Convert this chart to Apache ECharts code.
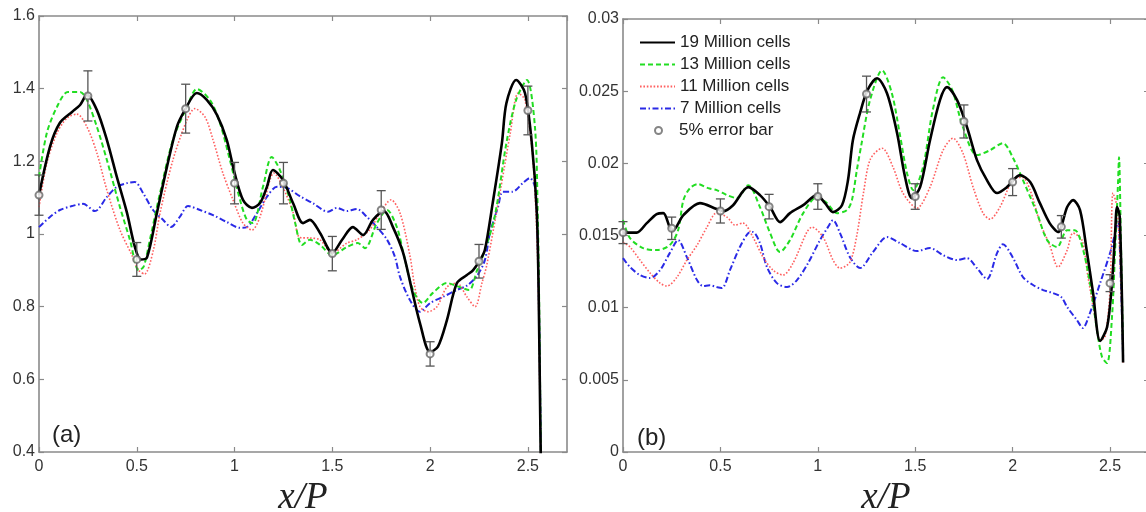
<!DOCTYPE html>
<html>
<head>
<meta charset="utf-8">
<title>Grid convergence</title>
<script src="https://cdn.jsdelivr.net/npm/echarts@6/dist/echarts.min.js"></script>
<style>
  html, body { margin: 0; padding: 0; background: #fff; }
  #chart { width: 1146px; height: 512px; }
</style>
</head>
<body>
<div id="chart"></div>
<script>
// Panel (a): profiles along x/P for each mesh size
const cells19A = [[0,1.107],[0.056,1.24],[0.107,1.306],[0.169,1.336],[0.21,1.355],[0.245,1.383],[0.296,1.341],[0.347,1.259],[0.398,1.157],[0.45,1.058],[0.49,0.965],[0.52,0.93],[0.552,0.935],[0.603,1.058],[0.654,1.184],[0.705,1.295],[0.746,1.341],[0.807,1.388],[0.858,1.369],[0.91,1.328],[0.96,1.259],[1.0,1.168],[1.043,1.094],[1.089,1.072],[1.13,1.085],[1.165,1.129],[1.196,1.176],[1.247,1.149],[1.3,1.084],[1.35,1.03],[1.385,1.039],[1.437,1.003],[1.5,0.948],[1.55,0.984],[1.605,1.019],[1.657,0.997],[1.708,1.039],[1.764,1.063],[1.81,1.019],[1.861,0.95],[1.907,0.846],[1.948,0.755],[2.0,0.675],[2.04,0.69],[2.086,0.763],[2.137,0.865],[2.188,0.887],[2.219,0.9],[2.255,0.928],[2.28,0.956],[2.32,1.085],[2.367,1.25],[2.39,1.36],[2.44,1.424],[2.485,1.388],[2.52,1.25],[2.545,1.066],[2.555,0.84],[2.563,0.5],[2.566,0.38]];
const cells13A = [[0,1.157],[0.04,1.278],[0.092,1.35],[0.148,1.391],[0.21,1.391],[0.245,1.369],[0.296,1.295],[0.347,1.204],[0.414,1.074],[0.465,0.984],[0.51,0.9],[0.535,0.91],[0.567,0.984],[0.619,1.113],[0.685,1.259],[0.757,1.35],[0.807,1.399],[0.874,1.369],[0.925,1.306],[0.976,1.204],[1.028,1.094],[1.063,1.039],[1.094,1.03],[1.145,1.129],[1.19,1.212],[1.232,1.176],[1.283,1.094],[1.31,1.03],[1.345,0.97],[1.385,0.984],[1.437,0.97],[1.5,0.942],[1.574,0.964],[1.63,0.975],[1.667,0.961],[1.728,1.03],[1.78,1.066],[1.83,1.019],[1.86,0.956],[1.912,0.846],[1.963,0.81],[2.014,0.838],[2.086,0.865],[2.15,0.854],[2.2,0.846],[2.24,0.9],[2.27,0.94],[2.33,1.047],[2.39,1.25],[2.44,1.369],[2.495,1.424],[2.536,1.295],[2.55,1.066],[2.558,0.8],[2.564,0.5],[2.567,0.38]];
const cells11A = [[0,1.074],[0.04,1.195],[0.092,1.278],[0.143,1.319],[0.194,1.33],[0.245,1.295],[0.296,1.223],[0.347,1.121],[0.414,1.011],[0.475,0.942],[0.51,0.9],[0.54,0.89],[0.585,0.956],[0.619,1.058],[0.685,1.204],[0.757,1.314],[0.797,1.345],[0.849,1.322],[0.89,1.259],[0.94,1.168],[0.992,1.094],[1.043,1.03],[1.089,1.011],[1.13,1.047],[1.181,1.149],[1.2,1.168],[1.247,1.129],[1.3,1.058],[1.334,0.99],[1.385,0.989],[1.437,0.984],[1.5,0.948],[1.574,0.975],[1.625,0.984],[1.69,1.011],[1.744,1.058],[1.8,1.094],[1.846,1.058],[1.897,0.94],[1.92,0.86],[1.948,0.8],[1.99,0.786],[2.035,0.8],[2.086,0.854],[2.137,0.865],[2.188,0.827],[2.23,0.8],[2.265,0.865],[2.29,0.915],[2.357,1.113],[2.41,1.278],[2.45,1.388],[2.485,1.369],[2.526,1.204],[2.55,0.928],[2.56,0.6],[2.566,0.38]];
const cells7A = [[0,1.019],[0.056,1.047],[0.107,1.066],[0.169,1.077],[0.225,1.083],[0.286,1.063],[0.347,1.102],[0.398,1.13],[0.45,1.14],[0.49,1.143],[0.532,1.113],[0.583,1.066],[0.634,1.039],[0.675,1.019],[0.72,1.047],[0.762,1.077],[0.823,1.066],[0.89,1.052],[0.96,1.033],[1.028,1.017],[1.063,1.019],[1.115,1.058],[1.165,1.102],[1.217,1.13],[1.268,1.127],[1.334,1.104],[1.4,1.085],[1.478,1.061],[1.523,1.072],[1.574,1.063],[1.625,1.069],[1.677,1.047],[1.728,1.019],[1.78,0.984],[1.82,0.937],[1.846,0.882],[1.897,0.818],[1.948,0.786],[2.0,0.81],[2.066,0.827],[2.137,0.846],[2.188,0.858],[2.24,0.885],[2.28,0.928],[2.306,1.003],[2.347,1.074],[2.372,1.116],[2.42,1.116],[2.474,1.14],[2.51,1.154],[2.536,1.129],[2.55,0.975],[2.558,0.744],[2.564,0.5],[2.567,0.38]];

// Panel (b): profiles along x/P for each mesh size
const cells19B = [[0,0.0152],[0.07,0.0152],[0.122,0.01586],[0.173,0.01648],[0.207,0.01655],[0.24,0.01558],[0.257,0.01537],[0.31,0.01641],[0.395,0.01724],[0.481,0.01683],[0.514,0.01669],[0.565,0.0171],[0.643,0.01835],[0.703,0.0178],[0.755,0.01697],[0.806,0.01593],[0.857,0.01655],[0.925,0.0171],[0.995,0.0178],[1.037,0.01724],[1.078,0.01662],[1.124,0.0171],[1.155,0.01884],[1.18,0.0216],[1.217,0.0235],[1.255,0.02507],[1.304,0.0259],[1.355,0.02486],[1.407,0.02209],[1.448,0.01904],[1.483,0.01759],[1.525,0.01835],[1.576,0.0216],[1.627,0.02438],[1.663,0.02528],[1.715,0.02438],[1.766,0.0225],[1.817,0.02022],[1.868,0.01884],[1.92,0.01794],[1.971,0.01835],[2.038,0.01918],[2.09,0.0187],[2.14,0.01724],[2.19,0.01586],[2.233,0.01524],[2.28,0.01697],[2.31,0.01745],[2.346,0.01676],[2.38,0.01399],[2.413,0.01101],[2.449,0.0077],[2.485,0.00866],[2.51,0.0117],[2.526,0.01517],[2.536,0.01697],[2.55,0.01627],[2.567,0.0062]];
const cells13B = [[0,0.01607],[0.036,0.01482],[0.103,0.01413],[0.175,0.01399],[0.24,0.01433],[0.283,0.01537],[0.31,0.01745],[0.344,0.01828],[0.385,0.01856],[0.437,0.01828],[0.481,0.01814],[0.534,0.0178],[0.585,0.01759],[0.643,0.01849],[0.703,0.01697],[0.755,0.01517],[0.806,0.01385],[0.857,0.01468],[0.925,0.01655],[0.995,0.01766],[1.047,0.01724],[1.098,0.01655],[1.15,0.01676],[1.175,0.01745],[1.2,0.0195],[1.225,0.0214],[1.268,0.02438],[1.33,0.02645],[1.38,0.02486],[1.42,0.02209],[1.458,0.01932],[1.49,0.01814],[1.54,0.01974],[1.59,0.02368],[1.643,0.02597],[1.69,0.02507],[1.745,0.0225],[1.817,0.02057],[1.884,0.02091],[1.95,0.0214],[2.0,0.02043],[2.053,0.01884],[2.125,0.01655],[2.177,0.01468],[2.228,0.0142],[2.28,0.01537],[2.32,0.01537],[2.36,0.0141],[2.397,0.0117],[2.433,0.00845],[2.459,0.00658],[2.485,0.00616],[2.51,0.00935],[2.526,0.01399],[2.541,0.01863],[2.546,0.02043],[2.556,0.0145],[2.567,0.007]];
const cells11B = [[0,0.01454],[0.036,0.0142],[0.087,0.0133],[0.139,0.0124],[0.19,0.0117],[0.226,0.0115],[0.277,0.01212],[0.328,0.0133],[0.38,0.01433],[0.431,0.01558],[0.48,0.01655],[0.534,0.01627],[0.575,0.01572],[0.616,0.01586],[0.667,0.01489],[0.719,0.0135],[0.77,0.0126],[0.821,0.01226],[0.873,0.01309],[0.944,0.01524],[0.97,0.01558],[1.027,0.01489],[1.078,0.0133],[1.114,0.01274],[1.165,0.01316],[1.2,0.015],[1.235,0.018],[1.27,0.0203],[1.33,0.02105],[1.386,0.01974],[1.437,0.01794],[1.509,0.0169],[1.576,0.01835],[1.643,0.02091],[1.694,0.02174],[1.745,0.0207],[1.797,0.01835],[1.848,0.01655],[1.884,0.01613],[1.935,0.01697],[2.0,0.01884],[2.048,0.01904],[2.09,0.01814],[2.14,0.0159],[2.19,0.01435],[2.233,0.01281],[2.28,0.01399],[2.31,0.01517],[2.356,0.01468],[2.387,0.01212],[2.423,0.00935],[2.449,0.00776],[2.474,0.00796],[2.5,0.01122],[2.515,0.01794],[2.536,0.01697],[2.556,0.0117],[2.567,0.0062]];
const cells7B = [[0,0.01343],[0.036,0.01281],[0.087,0.01226],[0.139,0.01205],[0.19,0.0126],[0.24,0.01378],[0.283,0.01468],[0.328,0.0135],[0.38,0.01191],[0.41,0.0115],[0.446,0.01155],[0.48,0.01143],[0.508,0.01136],[0.549,0.0126],[0.6,0.0142],[0.643,0.01517],[0.667,0.01524],[0.703,0.01447],[0.739,0.01281],[0.79,0.0117],[0.842,0.01143],[0.893,0.01191],[0.95,0.01309],[1.011,0.01468],[1.052,0.01558],[1.078,0.01607],[1.114,0.01517],[1.165,0.0135],[1.217,0.01274],[1.283,0.01385],[1.355,0.01489],[1.422,0.01447],[1.509,0.01392],[1.576,0.01413],[1.643,0.01364],[1.715,0.0133],[1.766,0.01343],[1.817,0.01274],[1.868,0.01198],[1.92,0.01378],[1.95,0.0144],[2.0,0.0135],[2.053,0.01212],[2.105,0.01157],[2.156,0.01122],[2.207,0.01101],[2.25,0.01073],[2.28,0.01004],[2.33,0.00914],[2.36,0.00859],[2.397,0.00963],[2.449,0.0117],[2.5,0.01378],[2.526,0.01517],[2.541,0.01607],[2.556,0.0117],[2.567,0.0066]];

// Reference points carrying a 5% error bar
const errX = [0, 0.25, 0.5, 0.75, 1, 1.25, 1.5, 1.75, 2, 2.25, 2.5];
const errA = [1.107, 1.38, 0.93, 1.345, 1.14, 1.14, 0.946, 1.066, 0.67, 0.925, 1.34];
const errB = [0.0152, 0.0155, 0.0167, 0.017, 0.0177, 0.0248, 0.0177, 0.0229, 0.0187, 0.0156, 0.0117];
const errFrac = 0.05;

const seriesNames = ['19 Million cells', '13 Million cells', '11 Million cells', '7 Million cells'];
const errName = '5% error bar';

const FRAME = '#8a8a8a';
const LABEL = '#333';
const FONT = '"Liberation Sans", Arial, sans-serif';

const lineStyles = {
  '19 Million cells': { color: '#000000', width: 2.6, type: 'solid' },
  '13 Million cells': { color: '#22dd22', width: 2, type: [5, 3] },
  '11 Million cells': { color: '#ff5f5f', width: 1.6, type: [1.6, 1.8] },
  '7 Million cells':  { color: '#2a2ae6', width: 2, type: [6, 2.5, 1.5, 2.5] }
};

function frameAxis(grid, pos, showLabel, extra) {
  const isX = pos === 'bottom' || pos === 'top';
  return Object.assign({
    type: 'value',
    gridIndex: grid,
    position: pos,
    axisLine: { show: true, onZero: false, lineStyle: { color: FRAME, width: 1.6 } },
    axisTick: { show: true, inside: true, length: 5, lineStyle: { color: FRAME, width: 1.2 } },
    axisLabel: {
      show: showLabel, color: LABEL, fontFamily: FONT, fontSize: 16,
      margin: isX ? 7 : 4, showMaxLabel: isX ? false : true
    },
    splitLine: { show: false }
  }, extra);
}

const xA = { min: 0, max: 2.7, interval: 0.5 };
const yA = { min: 0.4, max: 1.6, interval: 0.2 };
const xB = { min: 0, max: 2.7, interval: 0.5 };
const yB = { min: 0, max: 0.03, interval: 0.005 };

const xName = {
  name: 'x/P', nameLocation: 'middle', nameGap: 16,
  nameTextStyle: { fontFamily: '"Liberation Serif", "Times New Roman", serif', fontStyle: 'italic', fontSize: 37, color: '#222' }
};

function lineSeries(name, data, xi, yi) {
  const s = lineStyles[name];
  return {
    type: 'line', name: name, data: data, xAxisIndex: xi, yAxisIndex: yi,
    showSymbol: false, symbol: 'none', smooth: 0.3,
    lineStyle: { color: s.color, width: s.width, type: s.type },
    itemStyle: { color: s.color },
    z: 2
  };
}

function whiskers(values, xi, yi) {
  return {
    type: 'custom', name: 'whiskers', xAxisIndex: xi, yAxisIndex: yi, z: 4,
    data: values.map((v, i) => [errX[i], v]),
    renderItem: function (params, api) {
      const x = api.value(0), y = api.value(1);
      const hi = api.coord([x, y * (1 + errFrac)]);
      const lo = api.coord([x, y * (1 - errFrac)]);
      const half = 4.5;
      const st = { stroke: '#555', lineWidth: 1.3 };
      return {
        type: 'group',
        children: [
          { type: 'line', shape: { x1: hi[0], y1: hi[1], x2: lo[0], y2: lo[1] }, style: st },
          { type: 'line', shape: { x1: hi[0] - half, y1: hi[1], x2: hi[0] + half, y2: hi[1] }, style: st },
          { type: 'line', shape: { x1: lo[0] - half, y1: lo[1], x2: lo[0] + half, y2: lo[1] }, style: st }
        ]
      };
    }
  };
}

function errPoints(values, xi, yi) {
  return {
    type: 'scatter', name: errName, xAxisIndex: xi, yAxisIndex: yi, z: 5,
    symbol: 'emptyCircle', symbolSize: 7,
    itemStyle: { color: '#666', borderColor: '#666', borderWidth: 1.1 },
    data: values.map((v, i) => [errX[i], v])
  };
}

const drawOrder = [3, 2, 1, 0];
const dataA = [cells19A, cells13A, cells11A, cells7A];
const dataB = [cells19B, cells13B, cells11B, cells7B];

const series = [];
drawOrder.forEach(k => series.push(lineSeries(seriesNames[k], dataA[k], 0, 0)));
drawOrder.forEach(k => series.push(lineSeries(seriesNames[k], dataB[k], 2, 2)));
series.push(whiskers(errA, 0, 0), errPoints(errA, 0, 0));
series.push(whiskers(errB, 2, 2), errPoints(errB, 2, 2));

const legendText = { fontFamily: FONT, fontSize: 17, color: '#222' };

const option = {
  animation: false,
  backgroundColor: '#ffffff',
  grid: [
    { left: 39, top: 16, width: 528, height: 436, outerBoundsMode: 'none', containLabel: false },
    { left: 623, top: 19, width: 526, height: 433, outerBoundsMode: 'none', containLabel: false }
  ],
  xAxis: [
    frameAxis(0, 'bottom', true, Object.assign({}, xA, xName)),
    frameAxis(0, 'top', false, xA),
    frameAxis(1, 'bottom', true, Object.assign({}, xB, xName)),
    frameAxis(1, 'top', false, xB)
  ],
  yAxis: [
    frameAxis(0, 'left', true, yA),
    frameAxis(0, 'right', false, yA),
    frameAxis(1, 'left', true, yB),
    frameAxis(1, 'right', false, yB)
  ],
  legend: [
    {
      data: seriesNames, orient: 'vertical', left: 639, top: 34, padding: 0,
      itemWidth: 35, itemHeight: 14, itemGap: 5,
      itemStyle: { opacity: 0 },
      textStyle: legendText, selectedMode: false
    },
    {
      data: [errName], orient: 'vertical', left: 654, top: 122, padding: 0,
      itemWidth: 7, itemHeight: 7, itemGap: 5,
      textStyle: Object.assign({ padding: [0, 0, 0, 12] }, legendText), selectedMode: false
    }
  ],
  graphic: [
    { type: 'text', left: 52, top: 423, style: { text: '(a)', font: '24px ' + FONT, fill: '#222' } },
    { type: 'text', left: 637, top: 426, style: { text: '(b)', font: '24px ' + FONT, fill: '#222' } }
  ],
  series: series
};

const chart = echarts.init(document.getElementById('chart'), null, { renderer: 'canvas' });
chart.setOption(option);
</script>
</body>
</html>
